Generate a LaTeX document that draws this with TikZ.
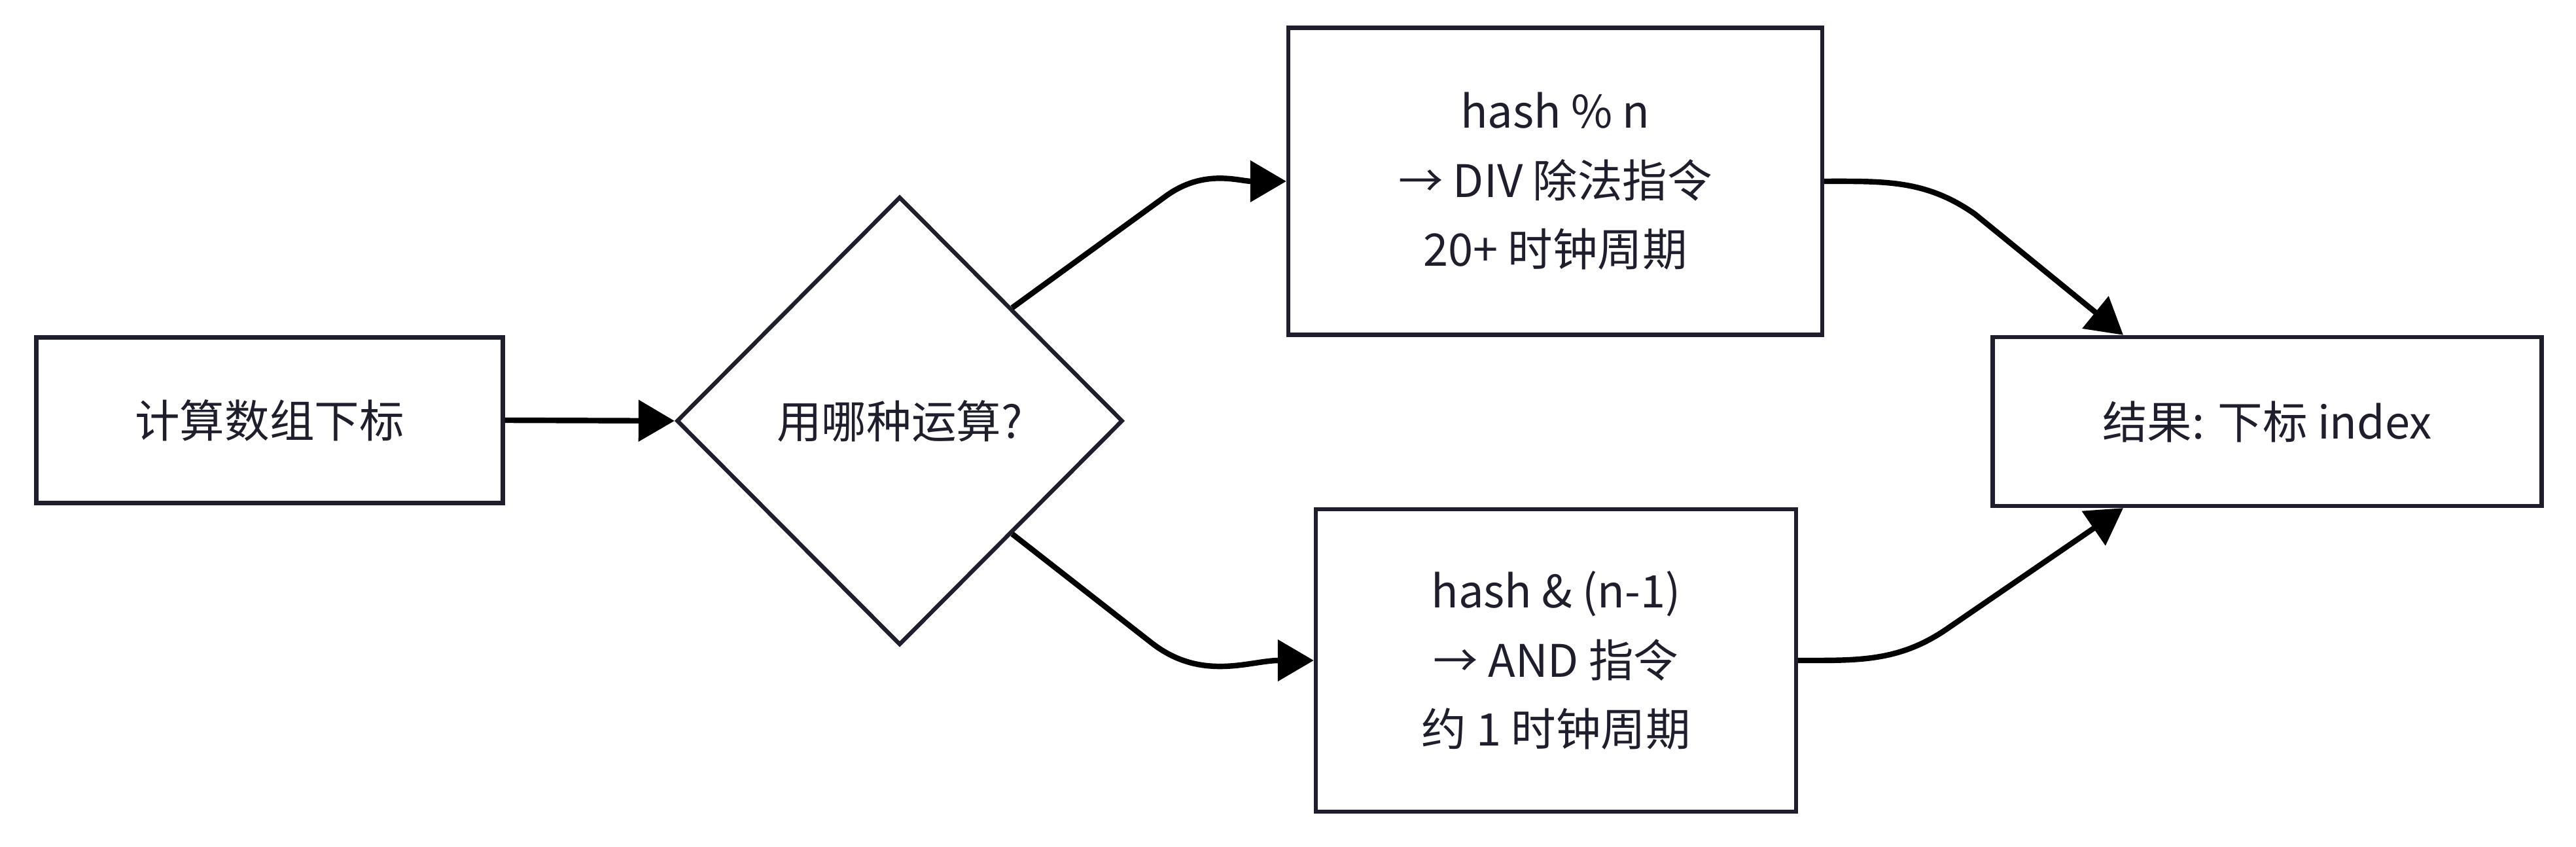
\documentclass[tikz,border=0pt]{standalone}
\usepackage{fontspec}
\setmainfont{Noto Sans CJK SC}
\usepackage{tikz}
\usetikzlibrary{shapes.geometric,arrows.meta}

\definecolor{inkc}{HTML}{1E1E2C}

\tikzset{
  stepbox/.style={draw=inkc, line width=1.8pt, fill=white, text=inkc,
    align=center, inner sep=0pt, font=\fontsize{19.5}{30}\selectfont},
  flow/.style={line width=2.4pt, black,
    -{Triangle[length=0.55cm, width=0.62cm]}}
}

\begin{document}
\begin{tikzpicture}
  % Fix the page size to the reference proportions
  \useasboundingbox (0,0) rectangle (39.37,12.94);

  % Start box
  \node[stepbox, minimum width=7.13cm, minimum height=2.53cm] (calc) at (4.12,6.52) {计算数组下标};

  % Decision diamond
  \node[stepbox, diamond, minimum width=6.82cm, minimum height=6.85cm] (dec) at (13.75,6.51) {用哪种运算?};

  % Upper branch: modulo
  \node[stepbox, minimum width=8.16cm, minimum height=4.69cm] (modbox) at (23.77,10.17)
    {hash \% n\\→ DIV 除法指令\\20+ 时钟周期};

  % Lower branch: bit mask
  \node[stepbox, minimum width=7.34cm, minimum height=4.62cm] (maskbox) at (23.78,2.85)
    {hash \& (n-1)\\→ AND 指令\\约 1 时钟周期};

  % Result box
  \node[stepbox, minimum width=8.39cm, minimum height=2.58cm] (res) at (34.65,6.50) {结果: 下标 index};

  % Connectors
  \draw[flow] (calc.east) -- (dec.west);
  \draw[flow] (dec.north east) -- ++(36:2.9) to[out=36, in=180] (modbox.west);
  \draw[flow] (dec.south east) -- ++(-38:2.7) to[out=-38, in=180] (maskbox.west);
  \draw[flow] (modbox.east) to[out=0, in=145] ++(2.3,-0.5) -- (res.149);
  \draw[flow] (maskbox.east) to[out=0, in=-145] ++(2.3,0.5) -- (res.211);

\end{tikzpicture}
\end{document}
